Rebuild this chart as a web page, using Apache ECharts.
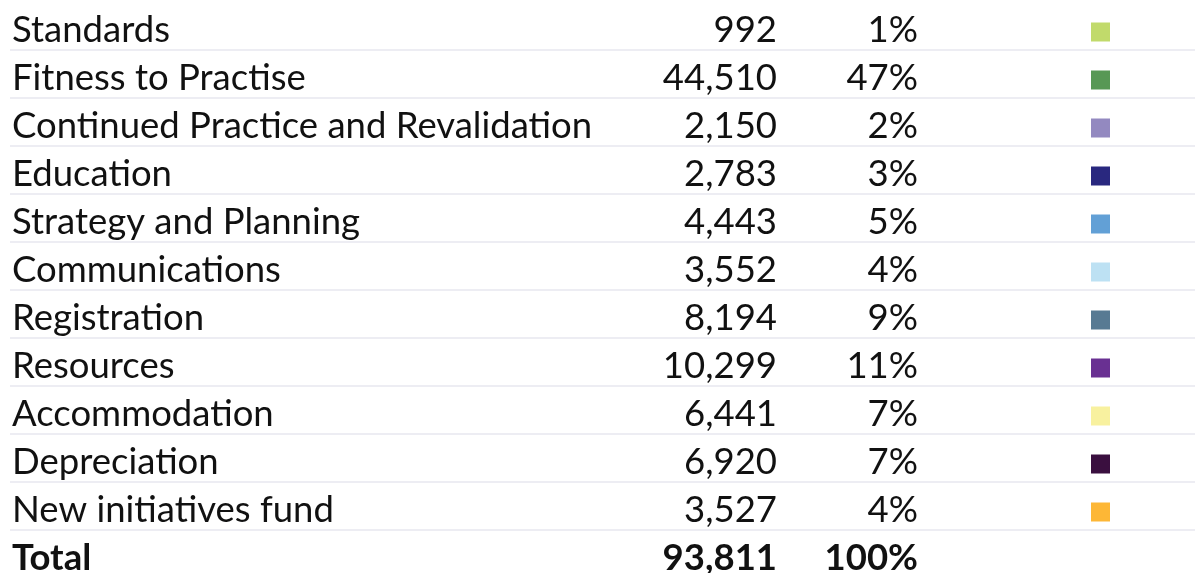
<!DOCTYPE html>
<html>
<head>
<meta charset="utf-8">
<script src="https://cdn.jsdelivr.net/npm/echarts@6/dist/echarts.min.js"></script>
<style>
  html, body { margin: 0; padding: 0; background: #fff; }
  #main { width: 1195px; height: 573px; }
</style>
</head>
<body>
<div id="main"></div>
<script>
"use strict";
// expenditure by directorate, £000
var categories = ['Standards', 'Fitness to Practise', 'Continued Practice and Revalidation',
  'Education', 'Strategy and Planning', 'Communications', 'Registration', 'Resources',
  'Accommodation', 'Depreciation', 'New initiatives fund'];
var values = [992, 44510, 2150, 2783, 4443, 3552, 8194, 10299, 6441, 6920, 3527];
var percents = [1, 47, 2, 3, 5, 4, 9, 11, 7, 7, 4];
var keyColors = ['#c1da6b', '#589855', '#9389c0', '#29287f', '#62a0d6', '#bde1f3',
  '#587a93', '#693092', '#f8f19f', '#3a0f3f', '#fdb736'];
var totalLabel = 'Total';
var totalValue = 93811;
var totalPercent = 100;

// layout (pixels, x axis runs in pixel units)
var colName = 12, colValue = 777, colPct = 918, colKey = 1100.5;
var fontFamily = 'Lato';
var fontSize = 36.5;
var textDy = 4;

var rows = categories.concat([totalLabel]);
var rowValues = values.concat([totalValue]);
var rowPcts = percents.concat([totalPercent]);

function fmt(n) {
  return String(n).replace(/\B(?=(\d{3})+(?!\d))/g, ',');
}

var textData = [];
for (var i = 0; i < rows.length; i++) textData.push([i]);

var keyData = [];
for (var k = 0; k < categories.length; k++) {
  keyData.push({ value: [colKey, k], itemStyle: { color: keyColors[k] } });
}

var option = {
  animation: false,
  backgroundColor: '#fff',
  grid: { left: 10, right: 0, top: 2, height: 576, outerBoundsMode: 'none' },
  xAxis: { type: 'value', min: 10, max: 1195, show: false },
  yAxis: {
    type: 'category',
    inverse: true,
    data: rows,
    boundaryGap: true,
    axisLine: { show: false },
    axisTick: { show: false },
    axisLabel: { show: false },
    splitLine: {
      show: true,
      showMinLine: false,
      showMaxLine: false,
      lineStyle: { color: '#ededf3', width: 2 }
    }
  },
  series: [{
    type: 'custom',
    clip: false,
    data: textData,
    renderItem: function (params, api) {
      var r = api.value(0);
      var y = api.coord([0, r])[1] + textDy;
      var bold = r === rows.length - 1;
      var font = (bold ? 'bold ' : '') + fontSize + 'px ' + fontFamily;
      var fill = '#111';
      return {
        type: 'group',
        children: [
          { type: 'text', x: colName, y: y,
            style: { text: rows[r], font: font, fill: fill, align: 'left', verticalAlign: 'middle' } },
          { type: 'text', x: colValue, y: y,
            style: { text: fmt(rowValues[r]), font: font, fill: fill, align: 'right', verticalAlign: 'middle' } },
          { type: 'text', x: colPct, y: y,
            style: { text: rowPcts[r] + '%', font: font, fill: fill, align: 'right', verticalAlign: 'middle' } }
        ]
      };
    }
  }, {
    type: 'scatter',
    symbol: 'rect',
    symbolSize: 19,
    symbolOffset: [0, 6],
    itemStyle: { opacity: 1 },
    data: keyData
  }]
};

var chart = echarts.init(document.getElementById('main'));
chart.setOption(option);
</script>
</body>
</html>
